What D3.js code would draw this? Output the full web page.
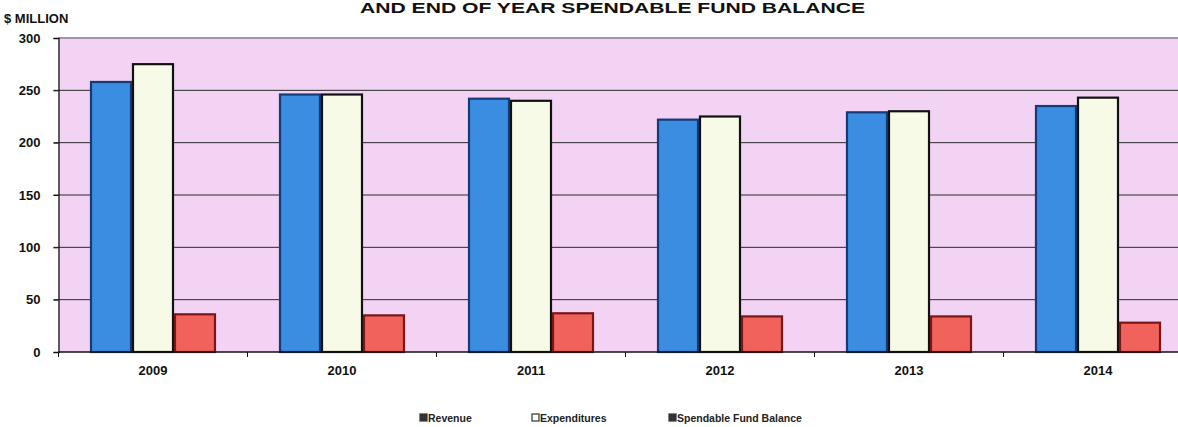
<!DOCTYPE html>
<html>
<head>
<meta charset="utf-8">
<script src="https://cdn.jsdelivr.net/npm/d3@7"></script>
<style>
  html, body { margin: 0; padding: 0; background: #ffffff; }
  svg { display: block; font-family: "Liberation Sans", Arial, sans-serif; }
</style>
</head>
<body>
<svg id="chart" width="1178" height="427"></svg>
<script>
const years = ["2009", "2010", "2011", "2012", "2013", "2014"];
const seriesNames = ["Revenue", "Expenditures", "Spendable Fund Balance"];
const revenue = [258, 246, 242, 222, 229, 235];
const expenditures = [275, 246, 240, 225, 230, 243];
const fundBalance = [36, 35, 37, 34, 34, 28];
const yTicks = [0, 50, 100, 150, 200, 250, 300];
const titleText = "AND END OF YEAR SPENDABLE FUND BALANCE";
const yUnitLabel = "$ MILLION";

const seriesValues = [revenue, expenditures, fundBalance];
const fills = ["#3a8de0", "#f8fae8", "#f2625c"];
const strokes = ["#163a78", "#111111", "#7a1616"];
const legendFills = ["#333333", "#ffffff", "#333333"];
const legendX = [420, 532, 669];

const svg = d3.select("#chart");
const plot = { left: 58.5, right: 1192.5, top: 38, bottom: 352 };

const x0 = d3.scaleBand().domain(years).range([plot.left, plot.right])
  .paddingInner(1 / 3).paddingOuter(1 / 6);
const x1 = d3.scaleBand().domain(seriesNames).range([0, x0.bandwidth()]).padding(0);
const y = d3.scaleLinear().domain([0, 300]).range([plot.bottom, plot.top]);

// Title (kept fully inside the picture)
svg.append("text").attr("x", 360).attr("y", 13)
  .attr("font-weight", "bold").attr("font-size", 15).attr("fill", "#111")
  .attr("textLength", 505).attr("lengthAdjust", "spacingAndGlyphs")
  .text(titleText);

// plot background
svg.append("rect").attr("x", plot.left).attr("y", plot.top)
  .attr("width", plot.right - plot.left).attr("height", plot.bottom - plot.top)
  .attr("fill", "#f2d3f4");

// top border
svg.append("line").attr("x1", plot.left).attr("x2", plot.right)
  .attr("y1", plot.top).attr("y2", plot.top)
  .attr("stroke", "#a094a4").attr("stroke-width", 2);

// gridlines
svg.append("g").selectAll("line").data(yTicks.filter(d => d > 0 && d < 300)).join("line")
  .attr("x1", plot.left - 5).attr("x2", plot.right)
  .attr("y1", d => y(d)).attr("y2", d => y(d))
  .attr("stroke", "#2a2a2a").attr("stroke-width", 1);

// y axis
const yAxis = d3.axisLeft(y).tickValues(yTicks).tickSize(5).tickPadding(13);
const gy = svg.append("g").attr("transform", `translate(${plot.left},0)`).call(yAxis);
gy.select(".domain").attr("stroke", "#111").attr("stroke-width", 1.3);
gy.selectAll(".tick line").attr("stroke", "#111");
gy.selectAll("text").attr("font-size", 13).attr("font-weight", "bold")
  .attr("fill", "#111").attr("font-family", "Liberation Sans, Arial, sans-serif");

svg.append("text").attr("x", 4).attr("y", 23).attr("font-size", 13)
  .attr("font-weight", "bold").attr("fill", "#111").text(yUnitLabel);

// bars
const groups = svg.append("g").selectAll("g").data(years).join("g")
  .attr("transform", d => `translate(${x0(d)},0)`);
groups.selectAll("rect").data((d, i) => seriesNames.map((s, j) => ({ s, j, v: seriesValues[j][i] })))
  .join("rect")
  .attr("x", d => x1(d.s) + 1)
  .attr("width", x1.bandwidth() - 2)
  .attr("y", d => y(d.v))
  .attr("height", d => y(0) - y(d.v))
  .attr("fill", d => fills[d.j])
  .attr("stroke", d => strokes[d.j])
  .attr("stroke-width", 2.2);

// x axis
const xAxis = d3.axisBottom(x0).tickSize(0).tickPadding(14);
const gx = svg.append("g").attr("transform", `translate(0,${plot.bottom})`).call(xAxis);
gx.select(".domain").remove();
gx.selectAll("text").attr("font-size", 13).attr("font-weight", "bold")
  .attr("fill", "#111").attr("font-family", "Liberation Sans, Arial, sans-serif");
svg.append("line").attr("x1", plot.left).attr("x2", plot.right)
  .attr("y1", plot.bottom).attr("y2", plot.bottom)
  .attr("stroke", "#111").attr("stroke-width", 1.5);
const step = x0.step();
svg.append("g").selectAll("line").data(d3.range(years.length + 1)).join("line")
  .attr("x1", i => plot.left + i * step).attr("x2", i => plot.left + i * step)
  .attr("y1", plot.bottom).attr("y2", plot.bottom + 5)
  .attr("stroke", "#111");

// legend
const lg = svg.append("g").selectAll("g").data(seriesNames).join("g")
  .attr("transform", (d, i) => `translate(${legendX[i]},422)`);
lg.append("rect").attr("x", 0).attr("y", -8).attr("width", 7).attr("height", 7)
  .attr("fill", (d, i) => legendFills[i]).attr("stroke", "#333").attr("stroke-width", 1.2);
lg.append("text").attr("x", 8).attr("y", 0).attr("font-size", 10.5)
  .attr("font-weight", "bold").attr("fill", "#222")
  .text(d => d);
</script>
</body>
</html>
